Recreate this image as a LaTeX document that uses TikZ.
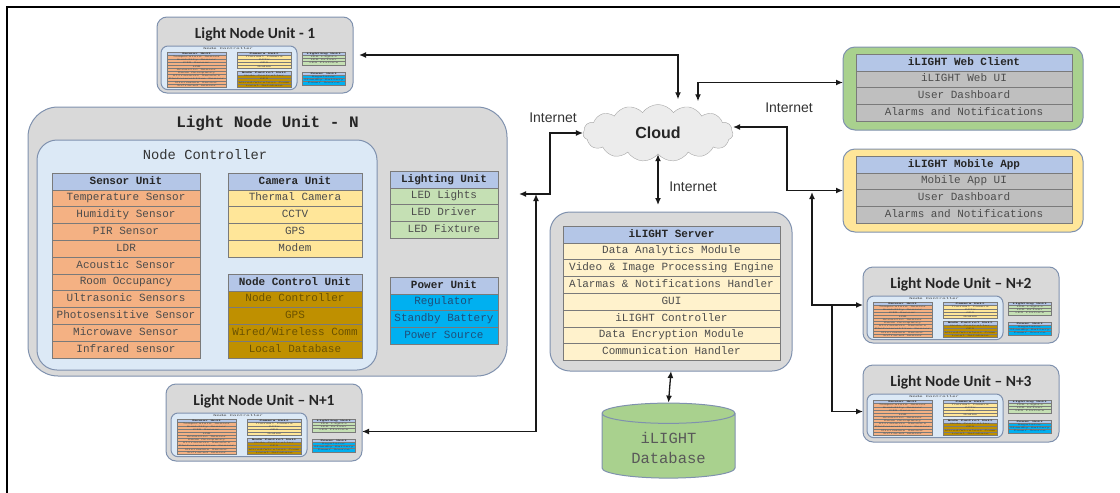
\documentclass[tikz,border=0pt]{standalone}
\usepackage{fontspec}
\setmainfont{Carlito}
\setmonofont{Liberation Mono}
\newfontfamily\arialfont{Liberation Sans}
\usepackage{tikz}
\usetikzlibrary{positioning}
\usetikzlibrary{calc}
\usetikzlibrary{arrows.meta}
\usetikzlibrary{shapes.symbols}
\usetikzlibrary{shapes.geometric}

\definecolor{hdrblue}{HTML}{B4C6E7}
\definecolor{ncblue}{HTML}{DCE9F6}
\definecolor{unitgray}{HTML}{D9D9D9}
\definecolor{bordergray}{HTML}{7F91AE}
\definecolor{cellline}{HTML}{7A7A7A}
\definecolor{sensororange}{HTML}{F4B183}
\definecolor{camyellow}{HTML}{FFE699}
\definecolor{ctrlbrown}{HTML}{BF9000}
\definecolor{ctrltext}{HTML}{6B5200}
\definecolor{litgreen}{HTML}{C5E0B4}
\definecolor{pwrblue}{HTML}{00B0F0}
\definecolor{pwrtext}{HTML}{1F4E79}
\definecolor{srvcream}{HTML}{FFF2CC}
\definecolor{clientgray}{HTML}{BFBFBF}
\definecolor{webgreen}{HTML}{A9D18E}
\definecolor{mobyellow}{HTML}{FFE699}
\definecolor{dbgreen}{HTML}{A9D18E}

\tikzstyle{figframe} = [line width=1.5pt, black]
\tikzstyle{unitbox} = [draw=bordergray, fill=unitgray, line width=1pt, rectangle, rounded corners=10pt, anchor=north west, inner sep=0pt, outer sep=0pt]
\tikzstyle{ncbox} = [draw=bordergray, fill=ncblue, line width=1pt, rectangle, rounded corners=20pt, anchor=north west, inner sep=0pt, outer sep=0pt]
\tikzstyle{clientbox} = [draw=bordergray, line width=1pt, rectangle, rounded corners=12pt, anchor=north west, inner sep=0pt, outer sep=0pt]
\tikzstyle{thead} = [draw=cellline, fill=hdrblue, rectangle, inner sep=0pt, outer sep=0pt, minimum height=16.8, text height=8pt, text depth=2.5pt, text=black!85, font=\ttfamily\bfseries\fontsize{11}{12}\selectfont]
\tikzstyle{tcell} = [thead, text=black!70, font=\ttfamily\fontsize{11}{12}\selectfont]
\tikzstyle{sensorrow} = [fill=sensororange]
\tikzstyle{camrow} = [fill=camyellow]
\tikzstyle{ctrlrow} = [fill=ctrlbrown, text=ctrltext]
\tikzstyle{litrow} = [fill=litgreen]
\tikzstyle{pwrrow} = [fill=pwrblue, text=pwrtext]
\tikzstyle{srvrow} = [fill=srvcream]
\tikzstyle{clientrow} = [fill=clientgray]
\tikzstyle{bigtitle} = [inner sep=1pt, text=black!85, font=\ttfamily\bfseries\fontsize{16}{18}\selectfont]
\tikzstyle{minititle} = [inner sep=1pt, text=black!85, font=\bfseries\fontsize{15.5}{18}\selectfont]
\tikzstyle{nclabel} = [inner sep=1pt, text=black!80, font=\ttfamily\fontsize{13.8}{15}\selectfont]
\tikzstyle{netlabel} = [inner sep=1pt, text=black!80, font=\arialfont\fontsize{14}{16}\selectfont]
\tikzstyle{cloudshape} = [draw=gray!70, fill=gray!15, cloud, cloud puffs=15, cloud puff arc=110, aspect=2.6, minimum width=150, minimum height=57, inner sep=0pt, text=black!85, font=\arialfont\bfseries\fontsize{16}{18}\selectfont]
\tikzstyle{dbshape} = [draw=bordergray, fill=dbgreen, cylinder, shape border rotate=90, aspect=0.25, minimum width=133, minimum height=75, line width=1pt, align=center, text=black!65, font=\ttfamily\fontsize{15.5}{20}\selectfont]
\tikzstyle{mini} = [xscale=0.4, yscale=0.19, transform shape, every node/.append style={line width=0.3pt}, ncbox/.append style={rounded corners=7pt}]
\tikzstyle{link} = [line width=1.3pt, black!90]

% table: name, x, y, width, header, row style, rows
\newcommand{\unittable}[7]{%
  \node [thead, minimum width=#4, anchor=north west] (#1-0) at (#2,#3) {#5};
  \foreach \txt [count=\i] in {#7} {
    \pgfmathtruncatemacro\j{\i-1}
    \node [tcell, #6, minimum width=#4, below=0pt of #1-\j] (#1-\i) {\txt};
  }
}

% node controller, lighting and power of one light node unit
\newcommand{\lightunit}[1]{%
  \node [ncbox, minimum width=340, minimum height=230] (#1-nc) at (0,0) {};
  \node [nclabel] (#1-nclabel) at (168,15) {Node Controller};
  \unittable{#1-sen}{15}{33}{148}{Sensor Unit}{sensorrow}{Temperature Sensor, Humidity Sensor, PIR Sensor, LDR, Acoustic Sensor, Room Occupancy, Ultrasonic Sensors, Photosensitive Sensor, Microwave Sensor, Infrared sensor}
  \unittable{#1-cam}{191}{33}{134}{Camera Unit}{camrow}{Thermal Camera, CCTV, GPS, Modem}
  \unittable{#1-ctl}{191}{134}{134}{Node Control Unit}{ctrlrow}{Node Controller, GPS, Wired/Wireless Comm, Local Database}
  \unittable{#1-lit}{353}{31}{108}{Lighting Unit}{litrow}{LED Lights, LED Driver, LED Fixture}
  \unittable{#1-pwr}{353}{137}{108}{Power Unit}{pwrrow}{Regulator, Standby Battery, Power Source}
}

\begin{document}
\begin{tikzpicture}[x=1pt, y=-1pt, >={Latex[length=7pt,width=6pt]}]
    \useasboundingbox (0,0) rectangle (1120,493);
    \draw [figframe] (7,493) |- (1120,7);

    % light node unit N
    \node [unitbox, rounded corners=30pt, minimum width=479, minimum height=269] (lnuN) at (28,107) {};
    \node [bigtitle, below=8pt of lnuN.north] (lnuN-title) {Light Node Unit - N};
    \begin{scope}[shift={(37,140)}]
        \lightunit{lnN}
    \end{scope}

    % small light node units
    \node [unitbox, minimum width=196, minimum height=76] (lnu1) at (157,17) {};
    \node [minititle, below=9pt of lnu1.north] (lnu1-title) {Light Node Unit - 1};
    \begin{scope}[shift={(161,46)}, mini]
        \lightunit{ln1}
    \end{scope}

    \node [unitbox, minimum width=196, minimum height=77] (lnuN1) at (166,384) {};
    \node [minititle, below=9pt of lnuN1.north] (lnuN1-title) {Light Node Unit – N+1};
    \begin{scope}[shift={(171,413)}, mini]
        \lightunit{lnN1}
    \end{scope}

    \node [unitbox, minimum width=196, minimum height=76] (lnuN2) at (863,267) {};
    \node [minititle, below=9pt of lnuN2.north] (lnuN2-title) {Light Node Unit – N+2};
    \begin{scope}[shift={(867,296)}, mini]
        \lightunit{lnN2}
    \end{scope}

    \node [unitbox, minimum width=196, minimum height=77] (lnuN3) at (863,365) {};
    \node [minititle, below=9pt of lnuN3.north] (lnuN3-title) {Light Node Unit – N+3};
    \begin{scope}[shift={(867,394)}, mini]
        \lightunit{lnN3}
    \end{scope}

    % clients
    \node [clientbox, fill=webgreen, minimum width=240, minimum height=83] (web) at (843,47) {};
    \unittable{web-tab}{856}{54}{216}{iLIGHT Web Client}{clientrow}{iLIGHT Web UI, User Dashboard, Alarms and Notifications}
    \node [clientbox, fill=mobyellow, minimum width=240, minimum height=83] (mobile) at (843,149) {};
    \unittable{mob-tab}{856}{156}{216}{iLIGHT Mobile App}{clientrow}{Mobile App UI, User Dashboard, Alarms and Notifications}

    % server and database
    \node [unitbox, rounded corners=20pt, minimum width=242, minimum height=159] (server) at (550,212) {};
    \unittable{srv-tab}{563}{226}{217}{iLIGHT Server}{srvrow}{Data Analytics Module, Video \& Image Processing Engine, Alarmas \& Notifications Handler, GUI, iLIGHT Controller, Data Encryption Module, Communication Handler}
    \node [dbshape] (db) at (668.5,447.5) {iLIGHT\\Database};

    \node [cloudshape] (cloud) at (658,133) {Cloud};
    \node [netlabel] (net-l) at (553,118) {Internet};
    \node [netlabel] (net-m) at (693,187) {Internet};
    \node [netlabel] (net-r) at (789,108) {Internet};

    \coordinate (bendL) at (550,150);
    \coordinate (tapL) at (536,194);
    \coordinate (bendR) at (787,160);
    \coordinate (tapR) at (812,192);
    \coordinate (forkR) at (832,305);

    \draw [link, <->, shorten <=6pt] (lnu1.east) -| ([xshift=20pt, yshift=5pt]cloud.north);
    \draw [link, <->] ([yshift=6pt]web.west) -| ([xshift=40pt, yshift=3pt]cloud.north);
    \draw [link, <->] ([yshift=6pt]cloud.east) -| (bendR) |- (mobile.west);
    \draw [link, <->] (tapR) |- (lnuN2.west);
    \draw [link, ->] (forkR) |- ([yshift=-8pt]lnuN3.west);
    \draw [link, <->, shorten >=12pt] (cloud.west) -| (bendL) |- (lnuN.east |- tapL);
    \draw [link, <->] (tapL) |- ([yshift=-9pt]lnuN1.east);
    \draw [link, <->, shorten >=7pt] (cloud.south) -- (cloud.south |- server.north);
    \draw [link, <->] (server.south) -- (db.north);
\end{tikzpicture}
\end{document}
